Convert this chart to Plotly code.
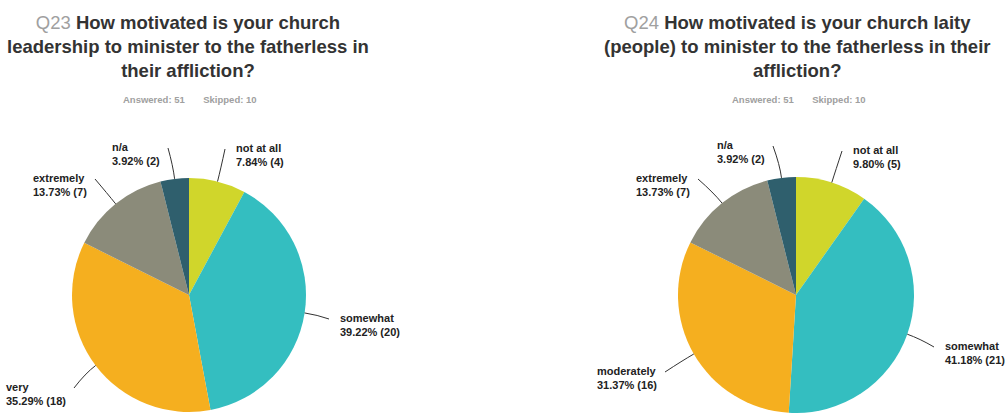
import math
import plotly.graph_objects as go

W, H = 1005, 413

# ---------------- data ----------------
q23_title = ["How motivated is your church", "leadership to minister to the fatherless in", "their affliction?"]
q23_categories = ["not at all", "somewhat", "very", "extremely", "n/a"]
q23_counts = [4, 20, 18, 7, 2]
q23_answered = 51
q23_skipped = 10

q24_title = ["How motivated is your church laity", "(people) to minister to the fatherless in their", "affliction?"]
q24_categories = ["not at all", "somewhat", "moderately", "extremely", "n/a"]
q24_counts = [5, 21, 16, 7, 2]
q24_answered = 51
q24_skipped = 10

slice_colors = ["#D0D62B", "#34BEC0", "#F5AF1F", "#8B8B7A", "#2F5F6D"]

# ---------------- layout (pixels) ----------------
charts = [
    dict(q="Q23", title=q23_title, cats=q23_categories, counts=q23_counts,
         answered=q23_answered, skipped=q23_skipped,
         cx=189, cy=295, r=117, tx=188,
         labels=[("left", 234, 148), ("left", 338, 318), ("right", 68, 387),
                 ("right", 89, 178), ("right", 162, 147)]),
    dict(q="Q24", title=q24_title, cats=q24_categories, counts=q24_counts,
         answered=q24_answered, skipped=q24_skipped,
         cx=796, cy=295, r=118, tx=797,
         labels=[("left", 851, 150), ("left", 943, 346), ("right", 659, 371),
                 ("right", 692, 178), ("right", 767, 145)]),
]


def px(x):
    return x / W


def py(y):
    return 1 - y / H


fig = go.Figure()
annotations = []
shapes = []

for ch in charts:
    cx, cy, r = ch["cx"], ch["cy"], ch["r"]
    fig.add_trace(go.Pie(
        labels=ch["cats"], values=ch["counts"], sort=False,
        direction="clockwise", rotation=0,
        marker=dict(colors=slice_colors, line=dict(width=0)),
        textinfo="none", hoverinfo="label+percent+value",
        showlegend=False,
        domain=dict(x=[px(cx - r), px(cx + r)], y=[max(0, py(cy + r)), py(cy - r)]),
    ))

    # title
    t = ch["title"]
    title_text = (f"<span style='color:#A0A0A0'>{ch['q']}</span> <b>{t[0]}</b><br>"
                  f"<b>{t[1]}</b><br><b>{t[2]}</b>")
    annotations.append(dict(
        text=title_text, x=px(ch["tx"]), y=py(46), xref="paper", yref="paper",
        xanchor="center", yanchor="middle", align="center", showarrow=False,
        font=dict(family="Liberation Sans, Arial, sans-serif", size=18.5, color="#333333"),
    ))
    annotations.append(dict(
        text=f"<b>Answered: {ch['answered']}" + "&nbsp;" * 7 + f"Skipped: {ch['skipped']}</b>",
        x=px(ch["tx"] + 2), y=py(100), xref="paper", yref="paper",
        xanchor="center", yanchor="middle", showarrow=False,
        font=dict(family="Liberation Sans, Arial, sans-serif", size=9.5, color="#A0A0A0"),
    ))

    total = sum(ch["counts"])
    cum = 0
    for cat, cnt, (anchor, lx, ly) in zip(ch["cats"], ch["counts"], ch["labels"]):
        mid = (cum + cnt / 2) / total * 2 * math.pi
        cum += cnt
        ux, uy = math.sin(mid), -math.cos(mid)
        tipx, tipy = cx + r * ux, cy + r * uy
        ctrlx, ctrly = tipx + 13 * ux, tipy + 13 * uy
        endx = lx - 9 if anchor == "left" else lx + 6
        endy = ly + 1
        shapes.append(dict(
            type="path", xref="paper", yref="paper",
            path=f"M {px(tipx)},{py(tipy)} Q {px(ctrlx)},{py(ctrly)} {px(endx)},{py(endy)}",
            line=dict(color="#333333", width=1),
        ))
        pct = cnt / total * 100
        annotations.append(dict(
            text=f"<b>{cat}<br>{pct:.2f}% ({cnt})</b>",
            x=px(lx), y=py(ly + 7), xref="paper", yref="paper",
            xanchor=anchor, yanchor="middle", align="left", showarrow=False,
            font=dict(family="Liberation Sans, Arial, sans-serif", size=11, color="#222222"),
        ))

fig.update_layout(
    width=W, height=H,
    margin=dict(l=0, r=0, t=0, b=0),
    paper_bgcolor="white", plot_bgcolor="white",
    annotations=annotations, shapes=shapes,
)

fig.write_html(
    "out.html",
    config={"displayModeBar": False},
    post_script="document.body.style.margin='0';document.body.style.overflow='hidden';",
)
